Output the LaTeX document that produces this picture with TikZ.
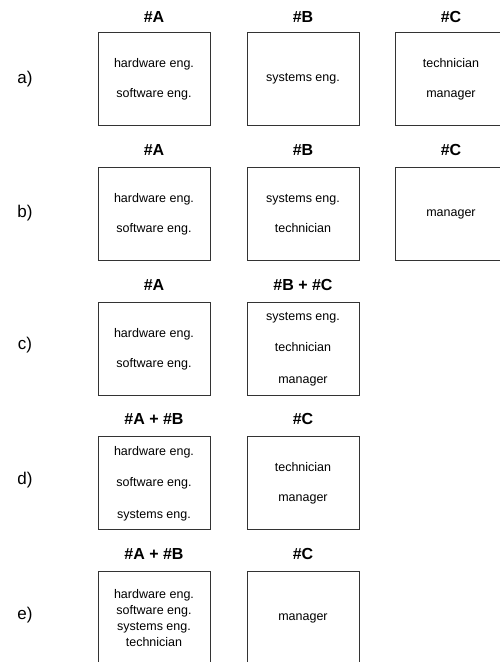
\documentclass[tikz,border=0pt]{standalone}
\usepackage{fontspec}
\setmainfont{Liberation Sans}
\begin{document}
\begin{tikzpicture}[x=1pt,y=-1pt,
  box/.style={draw=black!80, line width=1pt, minimum width=112pt, minimum height=93pt, inner sep=0pt, align=center, font=\fontsize{12.5}{30}\selectfont},
  box3/.style={box, font=\fontsize{12.5}{31.5}\selectfont},
  box4/.style={box, font=\fontsize{12.5}{16}\selectfont},
  head/.style={font=\bfseries\fontsize{16}{19}\selectfont},
  lab/.style={font=\fontsize{17}{20}\selectfont}]
\useasboundingbox (0,0) rectangle (500,662);
\clip (0,0) rectangle (500,662);
% row a
\node[lab]  (la)  at (25,79)   {a)};
\node[head] (haA) at (154,16.7) {\#A};
\node[head] (haB) at (303,16.7) {\#B};
\node[head] (haC) at (451,16.7) {\#C};
\node[box]  (aA)  at (154,79)  {hardware eng.\\software eng.};
\node[box]  (aB)  at (303,79)  {systems eng.};
\node[box]  (aC)  at (451,79)  {technician\\manager};
% row b
\node[lab]  (lb)  at (25,213.5) {b)};
\node[head] (hbA) at (154,150) {\#A};
\node[head] (hbB) at (303,150) {\#B};
\node[head] (hbC) at (451,150) {\#C};
\node[box]  (bA)  at (154,214) {hardware eng.\\software eng.};
\node[box]  (bB)  at (303,214) {systems eng.\\technician};
\node[box]  (bC)  at (451,214) {manager};
% row c
\node[lab]  (lc)  at (25,345) {c)};
\node[head] (hcA) at (154,285) {\#A};
\node[head] (hcB) at (303,285) {\#B + \#C};
\node[box]  (cA)  at (154,349) {hardware eng.\\software eng.};
\node[box3] (cB)  at (303,349) {systems eng.\\technician\\manager};
% row d
\node[lab]  (ld)  at (25,480) {d)};
\node[head] (hdA) at (154,419.3) {\#A + \#B};
\node[head] (hdC) at (303,419.3) {\#C};
\node[box3] (dA)  at (154,483.3) {hardware eng.\\software eng.\\systems eng.};
\node[box]  (dC)  at (303,483.3) {technician\\manager};
% row e
\node[lab]  (le)  at (25,615) {e)};
\node[head] (heA) at (154,554.3) {\#A + \#B};
\node[head] (heC) at (303,554.3) {\#C};
\node[box4] (eA)  at (154,618.3) {hardware eng.\\software eng.\\systems eng.\\technician};
\node[box]  (eC)  at (303,618.3) {manager};
\end{tikzpicture}
\end{document}
